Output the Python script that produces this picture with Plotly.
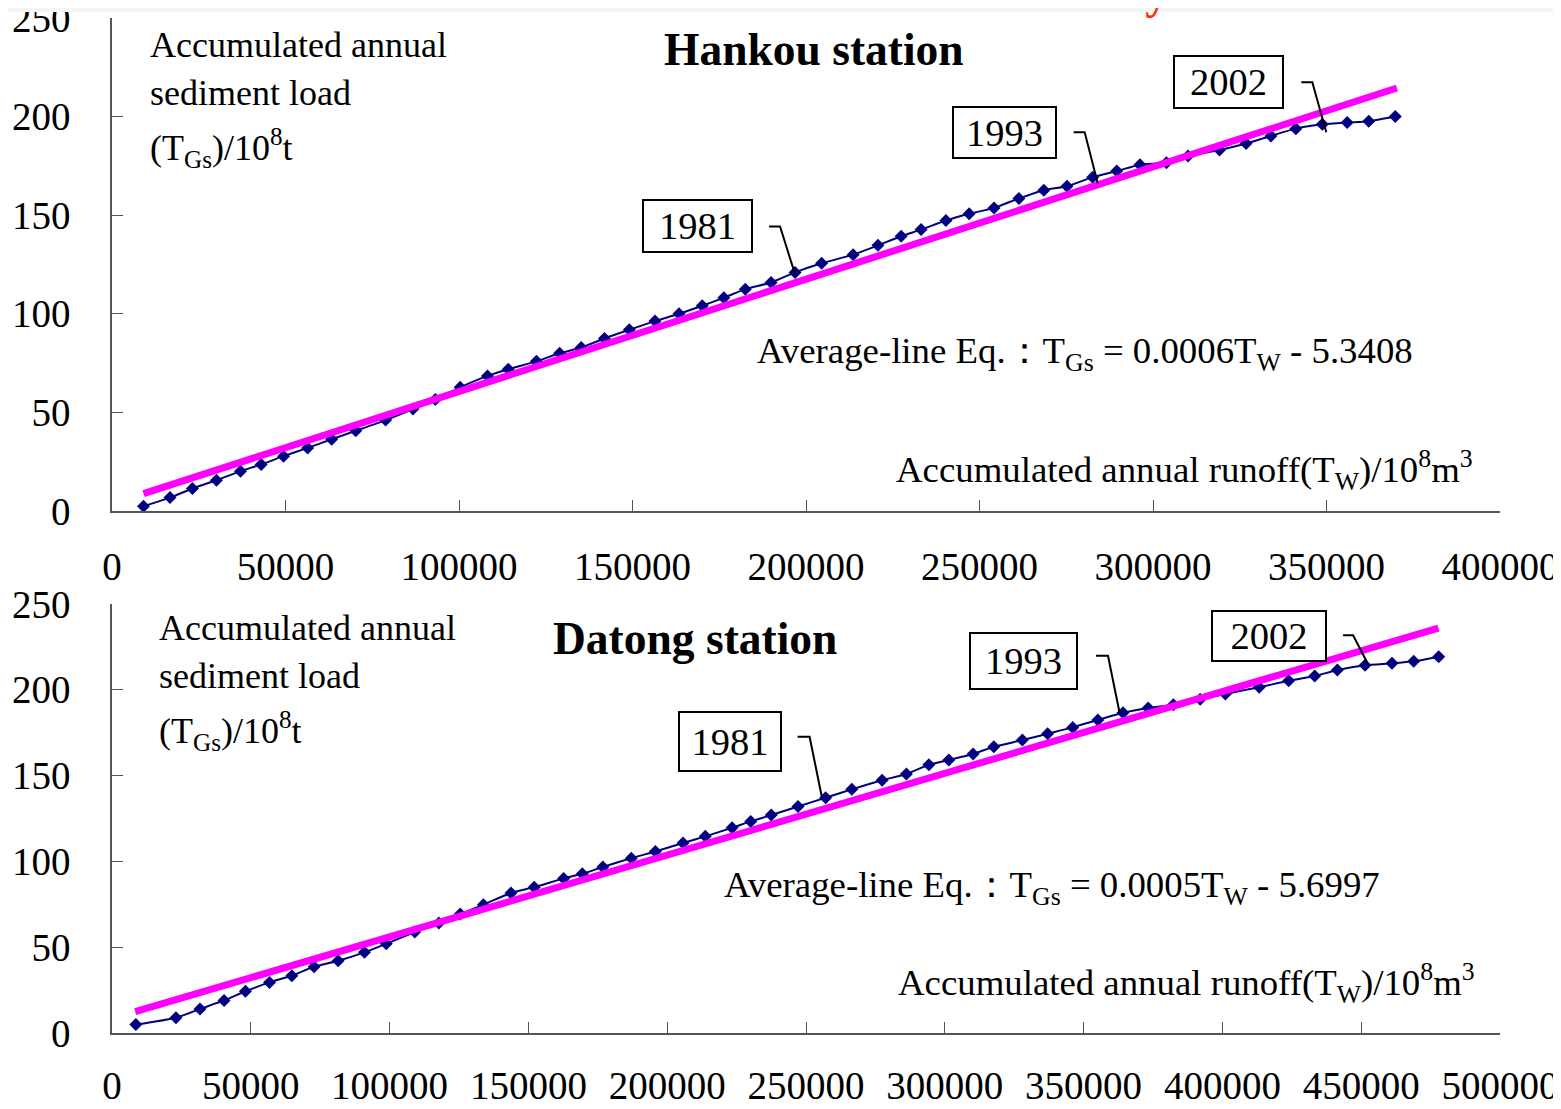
import plotly.graph_objects as go

# ---------------- data ----------------
hankou_runoff = [9080, 16720, 23170, 30100, 37030, 43000, 49450, 56380, 63310, 70240,
                 78840, 86720, 93170, 100340, 108220, 114190, 122310, 129000, 135220, 141910,
                 149080, 156480, 163410, 170100, 176310, 182520, 189930, 196850, 204500, 213580,
                 220740, 227430, 233170, 240330, 247020, 254190, 261360, 268530, 275210, 282620,
                 289550, 296240, 303880, 310090, 319170, 326820, 333980, 341150, 348790, 355960,
                 362170, 369820]
hankou_sediment = [2.4, 6.8, 11.4, 15.6, 20.2, 23.6, 27.8, 32.0, 36.4, 40.7,
                   46.1, 51.7, 56.6, 62.7, 68.5, 71.9, 75.9, 80.0, 82.9, 87.5,
                   91.9, 96.3, 100.0, 104.1, 108.1, 112.5, 115.9, 121.0, 125.6, 130.0,
                   134.7, 139.3, 142.7, 147.3, 150.7, 153.7, 158.5, 162.7, 164.7, 169.3,
                   172.4, 175.6, 176.6, 180.0, 183.1, 186.4, 190.2, 193.9, 196.1, 197.0,
                   197.6, 200.0]
hankou_first_year = 1954

datong_runoff = [8590, 23030, 31700, 40370, 48070, 56740, 64770, 72790, 81460, 90930,
                 98800, 109070, 117740, 125440, 133790, 143740, 152090, 162680, 169420, 176810,
                 187080, 195750, 205700, 213730, 223360, 230100, 237490, 247120, 257060, 266510,
                 277420, 286170, 294270, 301450, 310200, 317660, 327950, 337030, 346080, 355150,
                 364190, 373260, 382310, 391990, 401070, 413250, 423880, 433250, 441420, 451400,
                 461090, 468910, 477920]
datong_sediment = [4.9, 8.9, 14.0, 19.0, 24.3, 29.5, 33.4, 38.6, 42.1, 47.0,
                   52.0, 58.8, 64.1, 69.3, 74.8, 81.6, 85.0, 90.1, 92.8, 96.7,
                   101.9, 105.8, 110.7, 114.6, 119.6, 123.3, 127.0, 132.0, 137.1, 142.0,
                   147.3, 150.9, 156.3, 159.1, 162.6, 166.8, 170.7, 174.4, 178.1, 182.4,
                   186.6, 189.4, 191.3, 194.5, 197.6, 201.5, 205.3, 208.0, 211.5, 214.3,
                   215.4, 216.6, 219.3]
datong_first_year = 1953

hankou_avg_x = [9080, 370300]
hankou_avg_y = [8.8, 214.5]
datong_avg_x = [8360, 477810]
datong_avg_y = [12.4, 236.0]

label_years = [1981, 1993, 2002]

y_ticks = [0, 50, 100, 150, 200, 250]
hankou_x_ticks = [0, 50000, 100000, 150000, 200000, 250000, 300000, 350000, 400000]
datong_x_ticks = [0, 50000, 100000, 150000, 200000, 250000, 300000, 350000, 400000, 450000, 500000]

hankou_title = "<b>Hankou station</b>"
datong_title = "<b>Datong station</b>"
ylab_lines = ["Accumulated annual", "sediment load", "(T<sub>Gs</sub>)/10<sup>8</sup>t"]
hankou_eq = "Average-line Eq.：T<sub>Gs</sub> = 0.0006T<sub>W</sub> - 5.3408"
datong_eq = "Average-line Eq.：T<sub>Gs</sub> = 0.0005T<sub>W</sub> - 5.6997"
xlab = "Accumulated annual runoff(T<sub>W</sub>)/10<sup>8</sup>m<sup>3</sup>"
slide_title = "<b>Method 4: accumulated curve analysis</b>"

# ---------------- styles / layout geometry ----------------
# Positions below are in photo pixels (1561x1109); the figure sits 8 px in (page margin)
# and is sized so the page does not scroll.
VW, VH = 1561, 1109
PX0, PY0 = 8, 8
W, H = VW - PX0, VH - 2 * PY0
FONT = "Liberation Serif"
NAVY = "#000080"
MAGENTA = "#FF00FF"
AX = "#555555"


def px(X):
    return (X - PX0) / W


def py(Y):
    return 1 - (Y - PY0) / H


TOP_Y0, TOP_Y1 = 18, 511       # y=250 .. y=0
BOT_Y0, BOT_Y1 = 604, 1033
X0, X1 = 112, 1500

top_dom_y = [py(TOP_Y1), py(TOP_Y0)]
bot_dom_y = [py(BOT_Y1), py(BOT_Y0)]
dom_x = [px(X0), px(X1)]

hankou_boxes = [
    dict(cx=-98, cy=46, w=111, h=54, path=[(-26, 46), (-15, 46), (0, -2)]),
    dict(cx=-88, cy=45, w=105, h=53, path=[(-19, 45), (-8, 45), (5, -6)]),
    dict(cx=-94, cy=42, w=111, h=54, path=[(-21, 42), (-10, 42), (4, -8)]),
]
datong_boxes = [
    dict(cx=-96, cy=56, w=104, h=61, path=[(-28, 61), (-16, 61), (-4, 2)]),
    dict(cx=-99, cy=52, w=109, h=58, path=[(-27, 57), (-15, 57), (-3, -2)]),
    dict(cx=-96, cy=29, w=116, h=52, path=[(-22, 30), (-12, 30), (3, 1)]),
]

fig = go.Figure()


def add_station(xs, ys, ax_x, ay_y, first_year, boxes, avg_x, avg_y):
    fig.add_trace(go.Scatter(
        x=xs, y=ys, xaxis=ax_x, yaxis=ay_y, mode="lines+markers",
        line=dict(color=NAVY, width=2, shape="spline", smoothing=0.6),
        marker=dict(symbol="diamond", size=10, color=NAVY),
        showlegend=False, hoverinfo="skip", cliponaxis=False))
    fig.add_trace(go.Scatter(
        x=avg_x, y=avg_y, xaxis=ax_x, yaxis=ay_y, mode="lines",
        line=dict(color=MAGENTA, width=7), showlegend=False, hoverinfo="skip",
        cliponaxis=False))
    for yr, b in zip(label_years, boxes):
        i = yr - first_year
        x0, y0 = xs[i], ys[i]
        fig.add_annotation(
            x=x0, y=y0, xref=ax_x, yref=ay_y, text=str(yr), showarrow=False,
            xanchor="center", yanchor="middle", xshift=b["cx"], yshift=b["cy"],
            width=b["w"] - 4, height=b["h"] - 4, borderpad=0, borderwidth=2,
            bordercolor="black", bgcolor="white",
            font=dict(family=FONT, size=38.5, color="black"))
        p = b["path"]
        path = "M{},{} L{},{} L{},{}".format(p[0][0], p[0][1], p[1][0], p[1][1], p[2][0], p[2][1])
        fig.add_shape(type="path", path=path, xref=ax_x, yref=ay_y,
                      xsizemode="pixel", ysizemode="pixel", xanchor=x0, yanchor=y0,
                      line=dict(color="black", width=2), layer="above")


add_station(hankou_runoff, hankou_sediment, "x", "y", hankou_first_year, hankou_boxes,
            hankou_avg_x, hankou_avg_y)
add_station(datong_runoff, datong_sediment, "x2", "y2", datong_first_year, datong_boxes,
            datong_avg_x, datong_avg_y)

axis_common = dict(showline=True, linecolor=AX, linewidth=1.5, ticks="inside", ticklen=11,
                   tickwidth=1.2, tickcolor=AX, showgrid=False, zeroline=False,
                   automargin=False, ticklabeloverflow="allow",
                   tickfont=dict(family=FONT, size=39, color="black"))

fig.update_layout(
    width=W, height=H, margin=dict(l=0, r=0, t=0, b=0, pad=0, autoexpand=False),
    paper_bgcolor="white", plot_bgcolor="rgba(0,0,0,0)",
    xaxis=dict(domain=dom_x, range=[0, 400000], anchor="y", tickvals=hankou_x_ticks,
               ticktext=[str(v) for v in hankou_x_ticks], ticklabelstandoff=20, **axis_common),
    yaxis=dict(domain=top_dom_y, range=[0, 250], anchor="x", tickvals=y_ticks,
               ticklabelstandoff=32, **axis_common),
    xaxis2=dict(domain=dom_x, range=[0, 500000], anchor="y2", tickvals=datong_x_ticks,
                ticktext=[str(v) for v in datong_x_ticks], ticklabelstandoff=17, **axis_common),
    yaxis2=dict(domain=bot_dom_y, range=[0, 250], anchor="x2", tickvals=y_ticks,
                ticklabelstandoff=32, **axis_common),
)


def text(x, y, s, size, xanchor="left", color="black", yanchor="middle"):
    fig.add_annotation(x=px(x), y=py(y), xref="paper", yref="paper", text=s, showarrow=False,
                       xanchor=xanchor, yanchor=yanchor,
                       font=dict(family=FONT, size=size, color=color))


for (lx, ly0) in [(148, 45), (157, 628)]:
    for k, s in enumerate(ylab_lines):
        text(lx, ly0 + [0, 48, 103][k], s, 36)

text(814, 50, hankou_title, 45.5, "center")
text(695, 638, datong_title, 45.5, "center")
text(755, 353, hankou_eq, 36.8)
text(722, 887, datong_eq, 36.8)
text(1475, 470, xlab, 36.8, "right")
text(1477, 983, xlab, 36.8, "right")

# slide decorations: light top strip with the clipped red slide title
fig.add_annotation(x=px(VW / 2), y=py(6), xref="paper", yref="paper", text=" ",
                   showarrow=False, xanchor="center", yanchor="middle", width=VW + 4,
                   height=12, borderpad=0, borderwidth=0, bgcolor="#f2f7f4",
                   font=dict(size=1))
fig.add_annotation(x=px(840), y=py(20), xref="paper", yref="paper", text=slide_title,
                   showarrow=False, xanchor="center", yanchor="bottom",
                   font=dict(family=FONT, size=46, color="#FF3300"))

fig.write_html("out.html")
